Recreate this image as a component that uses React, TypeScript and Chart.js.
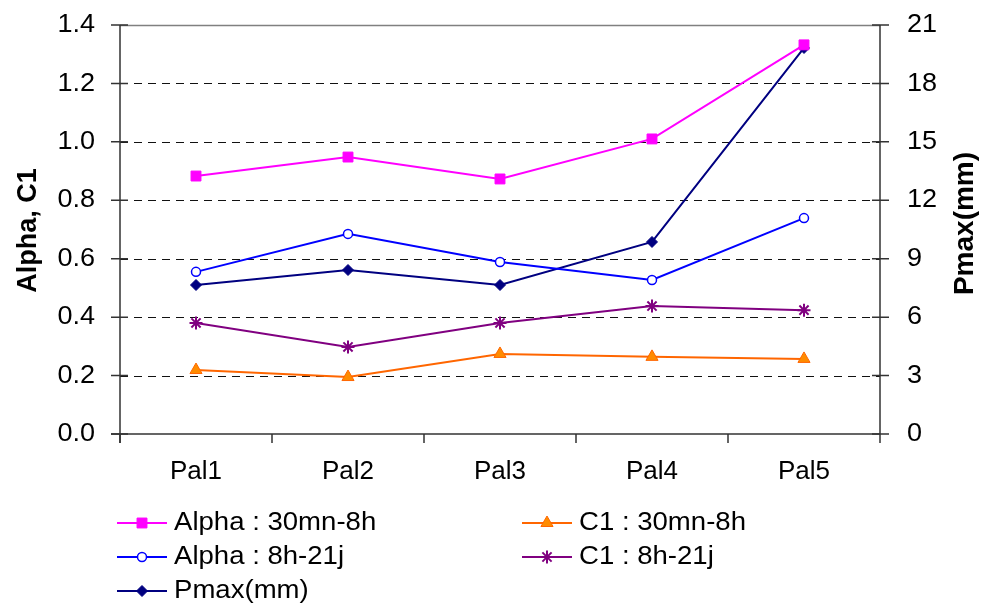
import React, { useEffect, useRef } from 'react';
import { Chart, registerables } from 'chart.js';
import { drawPoint } from 'chart.js/helpers';

Chart.register(...registerables);

const categories = ['Pal1', 'Pal2', 'Pal3', 'Pal4', 'Pal5'];
const alpha30 = [0.883, 0.948, 0.873, 1.01, 1.332];
const alpha8 = [0.555, 0.685, 0.589, 0.527, 0.739];
const c1_30 = [0.219, 0.195, 0.274, 0.264, 0.257];
const c1_8 = [0.38, 0.298, 0.38, 0.438, 0.424];
const pmax = [7.65, 8.42, 7.65, 9.86, 19.82];

const leftTickLabels = ['0.0', '0.2', '0.4', '0.6', '0.8', '1.0', '1.2', '1.4'];
const rightTickLabels = ['0', '3', '6', '9', '12', '15', '18', '21'];
const leftTitle = 'Alpha, C1';
const rightTitle = 'Pmax(mm)';

const FONT = '"Liberation Sans", Arial, sans-serif';

function txt(ctx: CanvasRenderingContext2D, s: string, x: number, y: number, align: CanvasTextAlign, font: string, sx = 1) {
  ctx.save();
  ctx.font = font;
  ctx.fillStyle = '#000';
  ctx.textBaseline = 'middle';
  ctx.textAlign = align;
  ctx.translate(x, y);
  ctx.scale(sx, 1);
  ctx.fillText(s, 0, 0);
  ctx.restore();
}

const framePlugin = {
  id: 'frame',
  beforeDatasetsDraw(chart: any) {
    const ctx: CanvasRenderingContext2D = chart.ctx;
    const y = chart.scales.y;
    const y1 = chart.scales.y1;
    const x = chart.scales.x;
    const { left, right, top, bottom } = chart.chartArea;
    ctx.save();
    y.ticks.forEach((t: any, i: number) => {
      const py = Math.round(y.getPixelForValue(t.value)) + 0.5;
      if (i === y.ticks.length - 1) {
        ctx.strokeStyle = '#808080';
        ctx.lineWidth = 1.5;
        ctx.setLineDash([]);
        ctx.beginPath();
        ctx.moveTo(left, py);
        ctx.lineTo(right, py);
        ctx.stroke();
      } else if (i > 0) {
        ctx.strokeStyle = '#111';
        ctx.lineWidth = 1;
        ctx.setLineDash([8, 6]);
        ctx.beginPath();
        ctx.moveTo(left, py);
        ctx.lineTo(right, py);
        ctx.stroke();
      }
    });
    ctx.setLineDash([]);
    ctx.strokeStyle = '#333';
    ctx.lineWidth = 1.5;
    ctx.beginPath();
    ctx.moveTo(left, top);
    ctx.lineTo(left, bottom + 9);
    ctx.moveTo(right, top);
    ctx.lineTo(right, bottom);
    ctx.moveTo(left - 9, bottom);
    ctx.lineTo(right, bottom);
    ctx.stroke();
    ctx.beginPath();
    y.ticks.forEach((t: any) => {
      const py = y.getPixelForValue(t.value);
      ctx.moveTo(left - 9, py);
      ctx.lineTo(left + 8, py);
    });
    y1.ticks.forEach((t: any) => {
      const py = y1.getPixelForValue(t.value);
      ctx.moveTo(right - 8, py);
      ctx.lineTo(right + 9, py);
    });
    const n = categories.length;
    for (let i = 0; i <= n; i++) {
      const px = x.left + (i * (x.right - x.left)) / n;
      ctx.moveTo(px, bottom);
      ctx.lineTo(px, bottom + 9);
    }
    ctx.stroke();
    ctx.restore();
  },
  afterDraw(chart: any) {
    const ctx: CanvasRenderingContext2D = chart.ctx;
    const y = chart.scales.y;
    const y1 = chart.scales.y1;
    const x = chart.scales.x;
    const { left, right, top, bottom } = chart.chartArea;
    const f = `26px ${FONT}`;
    y.ticks.forEach((t: any, i: number) => {
      txt(ctx, leftTickLabels[i] ?? String(t.value), left - 25, y.getPixelForValue(t.value), 'right', f, 1.04);
    });
    y1.ticks.forEach((t: any, i: number) => {
      txt(ctx, rightTickLabels[i] ?? String(t.value), right + 27, y1.getPixelForValue(t.value), 'left', f, 1.04);
    });
    categories.forEach((c, i) => {
      txt(ctx, c, x.getPixelForValue(i), bottom + 38, 'center', f, 1.0);
    });
    const midY = (top + bottom) / 2;
    ctx.save();
    ctx.translate(29, midY + 1);
    ctx.rotate(-Math.PI / 2);
    txt(ctx, leftTitle, 0, 0, 'center', `bold 27px ${FONT}`, 1);
    ctx.restore();
    ctx.save();
    ctx.translate(965, midY - 6);
    ctx.rotate(-Math.PI / 2);
    txt(ctx, rightTitle, 0, 0, 'center', `bold 28px ${FONT}`, 1);
    ctx.restore();
    const items = [
      { ds: 0, x: 117, y: 523 },
      { ds: 2, x: 522, y: 523 },
      { ds: 1, x: 117, y: 557 },
      { ds: 3, x: 522, y: 557 },
      { ds: 4, x: 117, y: 591 },
    ];
    items.forEach((it) => {
      const d: any = chart.data.datasets[it.ds];
      ctx.save();
      ctx.strokeStyle = d.borderColor;
      ctx.lineWidth = 2;
      ctx.beginPath();
      ctx.moveTo(it.x, it.y);
      ctx.lineTo(it.x + 50, it.y);
      ctx.stroke();
      ctx.fillStyle = d.pointBackgroundColor;
      ctx.strokeStyle = d.pointBorderColor;
      ctx.lineWidth = d.pointBorderWidth;
      drawPoint(ctx, { pointStyle: d.pointStyle, radius: d.pointRadius, borderWidth: d.pointBorderWidth, rotation: 0 } as any, it.x + 25, it.y);
      ctx.restore();
      txt(ctx, d.label, it.x + 57, it.y, 'left', f, 1.06);
    });
  },
};

export default function App() {
  const ref = useRef<HTMLCanvasElement>(null);
  useEffect(() => {
    if (!ref.current) return;
    const chart = new Chart(ref.current, {
      type: 'line',
      data: {
        labels: categories,
        datasets: [
          {
            label: 'Alpha : 30mn-8h', data: alpha30, yAxisID: 'y',
            borderColor: '#FF00FF', borderWidth: 2,
            pointStyle: 'rect', pointRadius: 7, pointBackgroundColor: '#FF00FF', pointBorderColor: '#FF00FF', pointBorderWidth: 1,
          },
          {
            label: 'Alpha : 8h-21j', data: alpha8, yAxisID: 'y',
            borderColor: '#0000FF', borderWidth: 2,
            pointStyle: 'circle', pointRadius: 4.5, pointBackgroundColor: '#FFFFFF', pointBorderColor: '#0000FF', pointBorderWidth: 1.5,
          },
          {
            label: 'C1 : 30mn-8h', data: c1_30, yAxisID: 'y',
            borderColor: '#FF6600', borderWidth: 2,
            pointStyle: 'triangle', pointRadius: 7, pointBackgroundColor: '#FF8C00', pointBorderColor: '#FF6600', pointBorderWidth: 1,
          },
          {
            label: 'C1 : 8h-21j', data: c1_8, yAxisID: 'y',
            borderColor: '#800080', borderWidth: 2,
            pointStyle: 'star', pointRadius: 6.5, pointBackgroundColor: '#800080', pointBorderColor: '#800080', pointBorderWidth: 2,
          },
          {
            label: 'Pmax(mm)', data: pmax, yAxisID: 'y1',
            borderColor: '#000080', borderWidth: 2,
            pointStyle: 'rectRot', pointRadius: 5.5, pointBackgroundColor: '#000080', pointBorderColor: '#000080', pointBorderWidth: 1,
          },
        ],
      },
      options: {
        responsive: true,
        maintainAspectRatio: false,
        animation: false,
        layout: { padding: { top: 25, left: 0, right: 0, bottom: 0 } },
        plugins: { legend: { display: false }, tooltip: { enabled: false }, title: { display: false } },
        scales: {
          x: {
            type: 'category', offset: true,
            grid: { display: false, drawTicks: false }, border: { display: false },
            ticks: { display: false },
            afterFit: (s: any) => { s.height = 173; },
          },
          y: {
            position: 'left', min: 0, max: 1.4,
            ticks: { stepSize: 0.2, display: false },
            grid: { display: false, drawTicks: false }, border: { display: false },
            afterFit: (s: any) => { s.width = 120; },
          },
          y1: {
            position: 'right', min: 0, max: 21,
            ticks: { stepSize: 3, display: false },
            grid: { display: false, drawTicks: false }, border: { display: false },
            afterFit: (s: any) => { s.width = 102; },
          },
        },
      },
      plugins: [framePlugin],
    });
    return () => chart.destroy();
  }, []);
  return (
    <div style={{ position: 'fixed', left: 0, top: 0, width: 982, height: 607, background: '#fff' }}>
      <canvas ref={ref} />
    </div>
  );
}
